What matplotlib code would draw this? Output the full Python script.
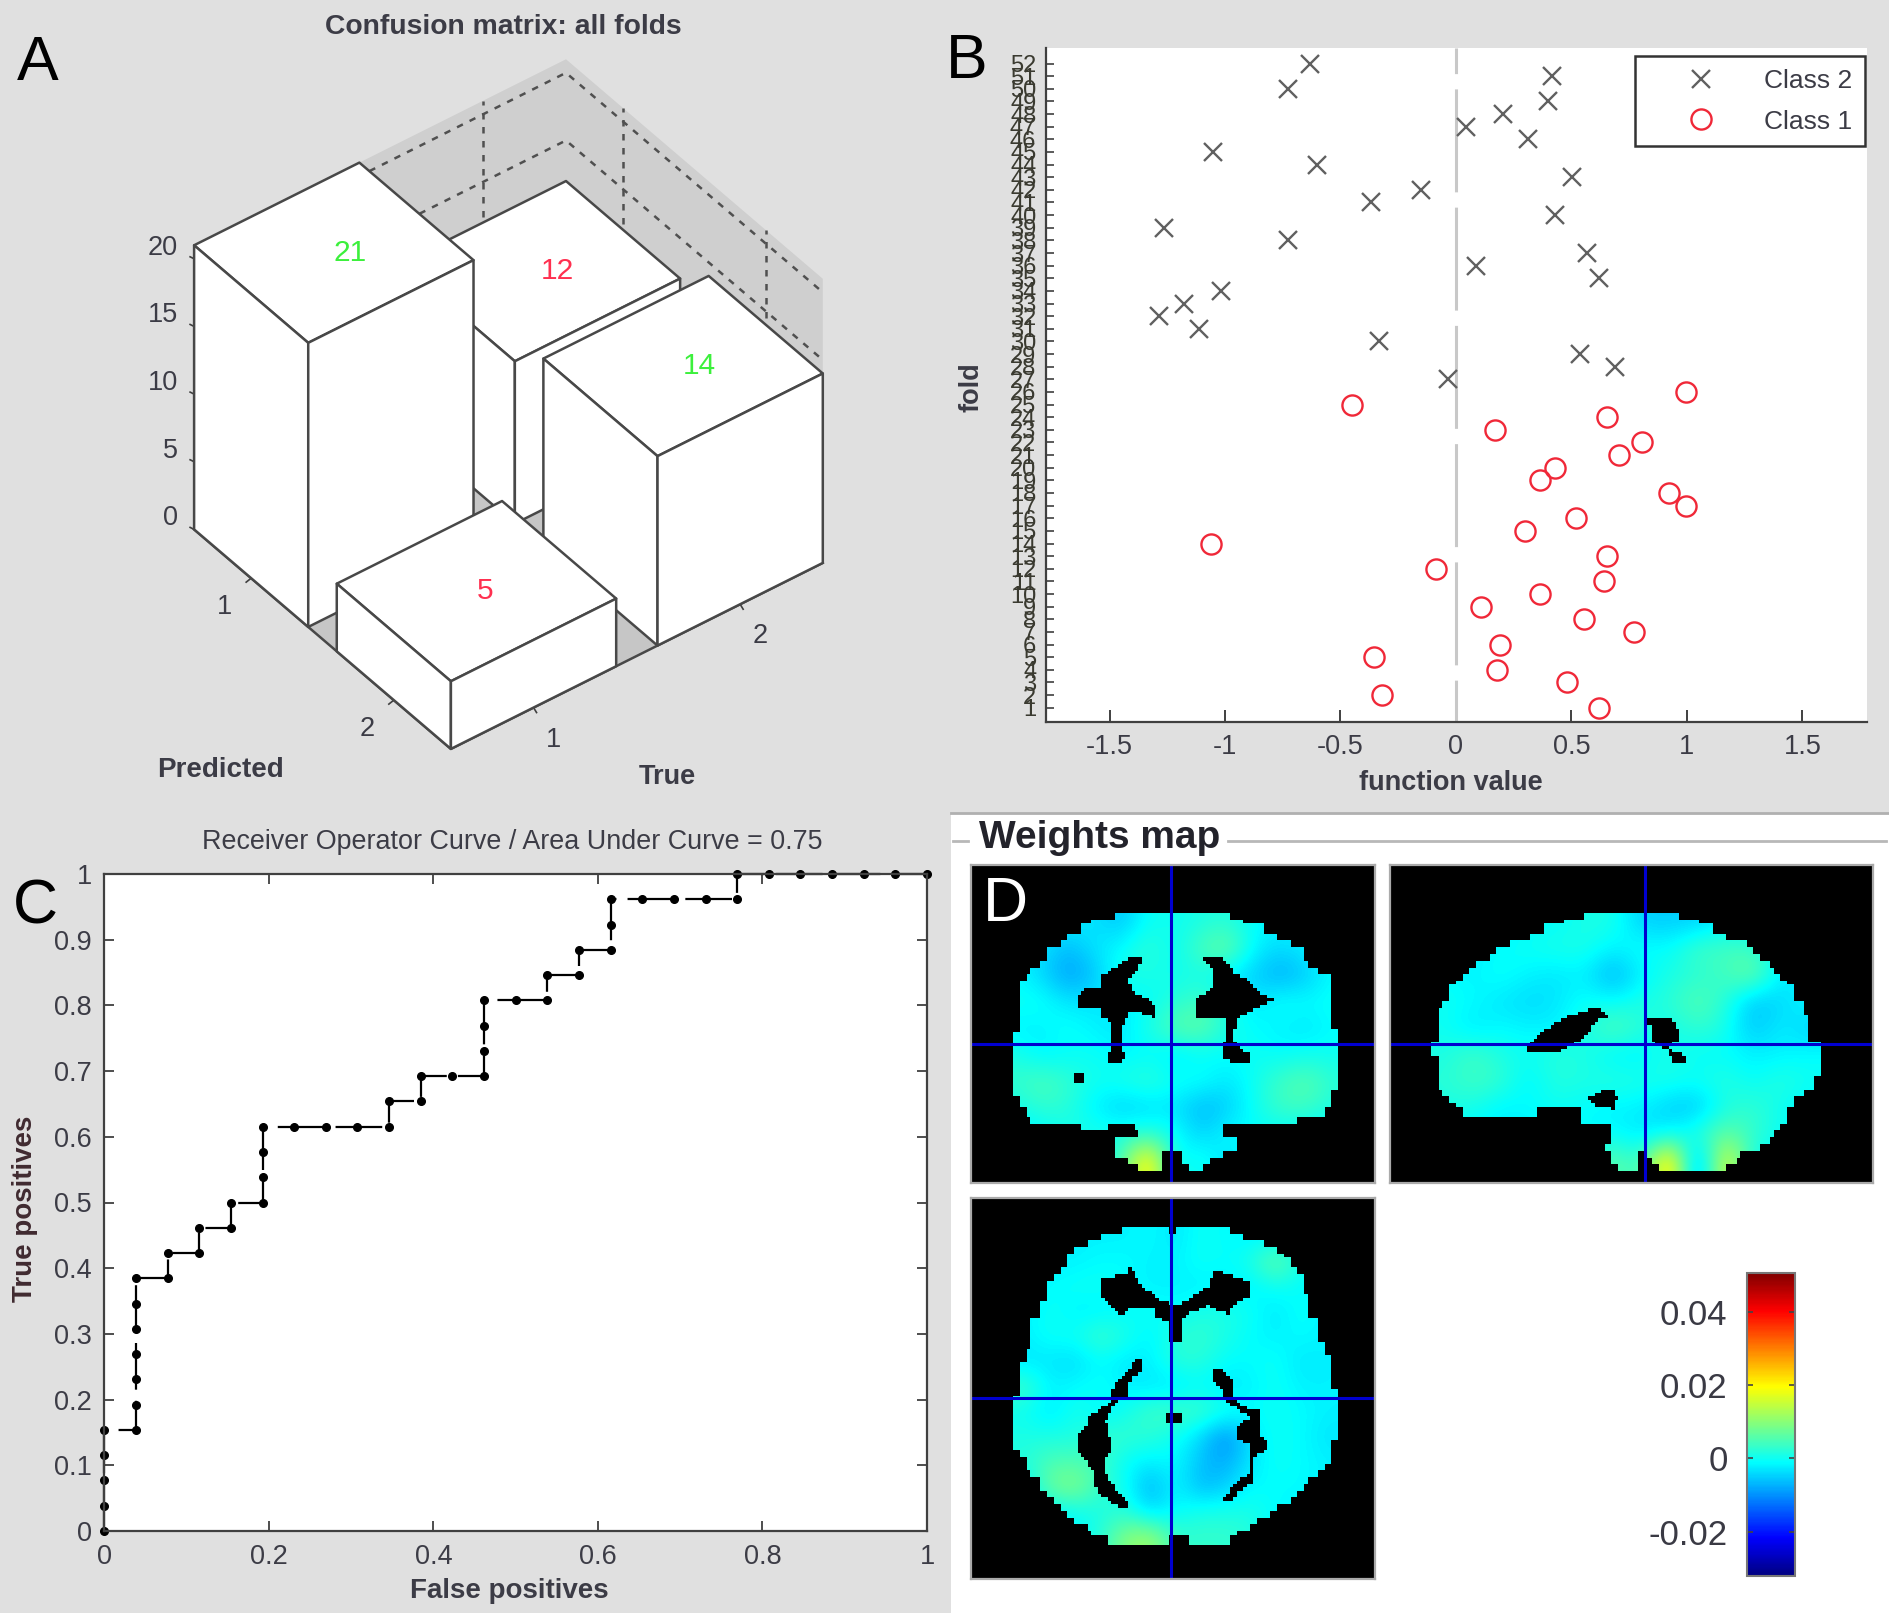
import numpy as np
import matplotlib
matplotlib.use("Agg")
import matplotlib.pyplot as plt
from matplotlib.colors import LinearSegmentedColormap
from matplotlib.path import Path
from matplotlib.patches import Polygon, Rectangle

plt.rcParams['font.family'] = ['Liberation Sans', 'DejaVu Sans']
plt.rcParams['axes.unicode_minus'] = False

W, H = 1890, 1613

# A: confusion matrix
pred_idx = [1, 1, 2, 2]
true_idx = [1, 2, 1, 2]
counts = [21, 12, 5, 14]
count_colors = ['#3cf03c', '#ff3050', '#ff3050', '#3cf03c']
z_ticks = [0, 5, 10, 15, 20]

# B: function value per fold
fold_class2 = list(range(52, 26, -1))
value_class2 = [-0.632, 0.418, -0.728, 0.397, 0.204, 0.042, 0.311, -1.05, -0.60, 0.504,
                -0.151, -0.366, 0.428, -1.264, -0.728, 0.569, 0.086, 0.621, -1.018, -1.178,
                -1.287, -1.112, -0.332, 0.538, 0.687, -0.034]
fold_class1 = list(range(26, 0, -1))
value_class1 = [0.997, -0.449, 0.653, 0.170, 0.804, 0.705, 0.428, 0.363, 0.922, 0.997,
                0.522, 0.300, -1.06, 0.653, -0.086, 0.642, 0.363, 0.107, 0.556, 0.770,
                0.191, -0.355, 0.180, 0.480, -0.321, 0.621]

# C: ROC curve, counts out of 26
fp_count = [0, 0, 0, 0, 0, 1, 1, 1, 1, 1, 1, 1, 2, 2, 3, 3, 4, 4, 5, 5, 5, 5, 6, 7, 8, 9, 9,
            10, 10, 11, 12, 12, 12, 12, 13, 14, 14, 15, 15, 16, 16, 16, 17, 18, 19, 20, 20,
            21, 22, 23, 24, 25, 26]
tp_count = [0, 1, 2, 3, 4, 4, 5, 6, 7, 8, 9, 10, 10, 11, 11, 12, 12, 13, 13, 14, 15, 16, 16,
            16, 16, 16, 17, 17, 18, 18, 18, 19, 20, 21, 21, 21, 22, 22, 23, 23, 24, 25, 25,
            25, 25, 25, 26, 26, 26, 26, 26, 26, 26]

# D: weights, units of 0.001, read on a coarse grid
coronal_w = [
    [-2, -2, -2, -3, -6, 0, 0, 1, 2, -1, -2, -2, -2],
    [-2, -3, -7, -3, -1, 3, -1, 5, 8, -2, -4, -2, 0],
    [-1, -4, -9, -6, 1, 1, 0, 1, -3, -5, -8, -5, -1],
    [0, 0, -3, -3, -2, -1, 2, 4, 1, -3, 0, -1, 0],
    [-2, -2, 0, -2, -3, 1, 6, 7, 1, -1, -2, -3, -1],
    [1, -2, -1, 0, -2, -1, -3, -1, -1, 0, -1, 0, 0],
    [3, 5, 3, 0, 1, 3, 0, 0, -3, 0, 4, 6, 2],
    [0, 3, 2, -2, -5, -4, -3, -7, -5, 0, 4, 4, 1],
    [-2, -2, 1, 1, 1, 2, 0, -5, -1, -1, -1, -2, -2],
    [-2, -2, -2, -2, 4, 24, -2, 1, -4, 0, -2, -2, -2],
]
sagittal_w = [
    [-2, -2, -2, -1, -1, 1, 1, -5, -5, -5, -2, -2, -2, -2],
    [-2, -2, -1, 0, 1, 1, -2, 0, -1, 4, 4, 4, -2, -2],
    [-1, -2, 0, -2, -3, -2, -8, -2, 1, 2, 4, 8, -3, -2],
    [0, -1, -3, -4, -3, 0, -1, 1, 2, 6, 2, -6, -4, -1],
    [0, -3, -1, -2, -2, 1, 6, 2, 0, 3, 1, -6, -2, -5],
    [1, 4, 1, 0, 2, 1, -2, -2, 1, -1, -1, -2, -2, -1],
    [2, 4, 3, -2, 2, 1, 2, 1, 1, 0, 2, -1, 2, 0],
    [1, 1, -2, -1, 0, -1, -2, -2, -5, -6, 1, 3, 0, -2],
    [-2, -2, -2, -2, -2, -1, -1, -3, -2, 2, 7, 3, 0, -2],
    [-2, -2, -2, -2, -2, -2, 8, 1, 27, -12, 20, 0, -2, -2],
]
axial_w = [
    [-2, -2, -2, -2, -2, -1, -3, 0, -1, -2, -2, -2, -2],
    [-2, -2, -2, -1, -1, -2, -2, 0, -1, 1, 8, 1, -2],
    [-2, -1, 0, 0, -1, -2, -2, -2, -2, -2, 0, -1, -2],
    [-2, 0, -2, -2, -1, 0, -1, 1, 1, 0, -3, 0, -2],
    [-2, 0, 0, 4, 1, -2, 2, 3, 1, -1, -2, -1, -2],
    [-3, -3, -4, -1, -3, -2, 2, 2, -1, -1, 0, -3, -2],
    [4, -2, -1, 0, -2, -3, -3, -1, -3, -2, 0, -2, -2],
    [0, -3, 1, -2, 0, 4, 4, 4, 1, -1, 0, -1, -2],
    [1, 1, 1, 3, 3, 2, 0, -4, -11, -3, 0, -1, -3],
    [2, 5, 5, 4, -1, -2, -1, -6, -8, -3, 0, -1, -2],
    [-2, 8, 10, 3, 0, -8, -1, -7, -5, -1, -1, -1, -2],
    [-2, -2, 0, 1, 2, -4, -1, 1, 1, 1, -1, -2, -2],
    [-2, -2, -2, 2, 10, 12, 3, 3, 3, 2, -2, -2, -2],
]

# outlines, in 3x pixels of each slice crop
coronal_outer = [(460, 160), (770, 160), (800, 180), (860, 200), (930, 235), (1000, 270), (1040, 325),
                 (1085, 350), (1085, 500), (1105, 505), (1105, 690), (1085, 695), (1085, 740), (1040, 770),
                 (1000, 775), (770, 790), (740, 815), (805, 820), (805, 870), (740, 880), (700, 930),
                 (650, 920), (640, 870), (580, 870), (570, 925), (520, 920), (440, 880), (440, 820),
                 (480, 820), (480, 835), (515, 835), (515, 810), (500, 790), (370, 800), (220, 785),
                 (180, 770), (140, 710), (135, 520), (155, 510), (155, 370), (200, 320), (240, 270),
                 (300, 230), (360, 195), (440, 170)]
coronal_holes = [
    [(490, 290), (520, 290), (515, 330), (480, 355), (490, 390), (560, 435), (560, 475), (490, 450),
     (470, 490), (462, 500), (462, 580), (480, 585), (455, 610), (420, 610), (420, 585), (433, 575),
     (433, 490), (400, 470), (400, 445), (325, 445), (325, 420), (360, 385), (405, 380), (405, 350),
     (450, 320)],
    [(705, 295), (760, 290), (800, 340), (840, 360), (880, 400), (920, 420), (880, 440), (805, 480),
     (797, 550), (815, 560), (845, 585), (845, 610), (790, 610), (765, 590), (765, 555), (772, 550),
     (772, 480), (680, 480), (680, 420), (740, 385), (740, 330)],
    [(320, 640), (345, 640), (345, 665), (320, 665)],
]
sagittal_outer = [(620, 160), (870, 160), (910, 180), (970, 195), (1010, 225), (1080, 245), (1110, 280),
                  (1150, 325), (1190, 355), (1240, 430), (1270, 480), (1270, 545), (1295, 550), (1295, 645),
                  (1270, 680), (1230, 710), (1190, 790), (1140, 850), (1060, 880), (1000, 930), (820, 920),
                  (790, 880), (760, 865), (750, 930), (720, 930), (680, 910), (660, 855), (680, 845),
                  (680, 790), (580, 785), (555, 740), (480, 740), (440, 770), (240, 770), (200, 735),
                  (155, 680), (140, 630), (135, 545), (155, 530), (155, 450), (185, 410), (200, 380),
                  (260, 320), (300, 290), (390, 240), (470, 210), (550, 180)]
sagittal_holes = [
    [(600, 450), (635, 450), (660, 470), (630, 480), (600, 520), (580, 545), (500, 580), (420, 580),
     (420, 555), (480, 505), (520, 480), (560, 465)],
    [(775, 480), (850, 480), (870, 510), (870, 550), (840, 555), (855, 580), (895, 585), (895, 610),
     (855, 610), (840, 570), (790, 545), (790, 500), (775, 500)],
    [(640, 695), (675, 695), (690, 715), (675, 725), (675, 755), (660, 740), (615, 735), (600, 715)],
]
axial_outer = [(480, 95), (580, 95), (610, 115), (640, 95), (770, 95), (800, 120), (860, 130), (920, 165),
               (960, 210), (1000, 250), (1020, 310), (1030, 370), (1060, 445), (1080, 480), (1080, 570),
               (1100, 575), (1100, 740), (1080, 790), (1040, 850), (980, 890), (940, 930), (850, 990),
               (770, 1040), (680, 1055), (650, 1020), (610, 1030), (590, 1055), (440, 1050), (370, 1010),
               (280, 950), (220, 880), (180, 810), (140, 765), (135, 600), (155, 575), (155, 510),
               (180, 460), (200, 380), (220, 320), (240, 250), (280, 210), (320, 160), (400, 125)]
axial_holes = [
    [(400, 255), (480, 235), (490, 220), (520, 270), (580, 325), (640, 330), (720, 280), (740, 225),
     (770, 235), (845, 260), (845, 310), (800, 330), (780, 360), (720, 335), (650, 365), (640, 440),
     (600, 440), (600, 380), (565, 375), (560, 345), (480, 345), (465, 365), (435, 340), (400, 310)],
    [(500, 495), (520, 495), (520, 535), (490, 550), (480, 610), (445, 625), (415, 680), (420, 720),
     (435, 730), (435, 770), (410, 790), (410, 830), (440, 880), (480, 925), (480, 940), (450, 935),
     (390, 900), (375, 830), (345, 790), (325, 760), (325, 725), (360, 690), (365, 665), (430, 625),
     (440, 570), (485, 530)],
    [(740, 520), (765, 525), (800, 570), (800, 610), (820, 640), (880, 645), (880, 720), (895, 740),
     (895, 765), (860, 790), (860, 860), (810, 895), (790, 925), (765, 925), (790, 880), (850, 830),
     (845, 750), (805, 730), (805, 705), (845, 670), (770, 620), (770, 590), (740, 560)],
    [(597, 658), (640, 658), (640, 688), (597, 688)],
]

cbar_ticks = [-0.02, 0, 0.02, 0.04]
cbar_labels = ['-0.02', '0', '0.02', '0.04']
w_min, w_max = -0.032, 0.0505

GRAY_BG = '#e0e0e0'
TXT = '#3c3c46'

# matlab jet, cyan sits at 0.375 unlike the matplotlib one
matlab_jet = LinearSegmentedColormap.from_list('matlab_jet', [
    (0.0, (0, 0, 0.5)), (0.125, (0, 0, 1)), (0.375, (0, 1, 1)),
    (0.625, (1, 1, 0)), (0.875, (1, 0, 0)), (1.0, (0.5, 0, 0))], N=256)

fig = plt.figure(figsize=(W / 100, H / 100), dpi=100, facecolor=GRAY_BG)


def ax_px(left, top, right, bottom, **kw):
    return fig.add_axes([left / W, 1 - bottom / H, (right - left) / W, (bottom - top) / H], **kw)


def txt(x, y, s, **kw):
    kw.setdefault('ha', 'center')
    kw.setdefault('va', 'center')
    kw.setdefault('color', TXT)
    return fig.text(x / W, 1 - y / H, s, **kw)


bg = ax_px(0, 0, W, H, zorder=0)
bg.set_xlim(0, W)
bg.set_ylim(H, 0)
bg.axis('off')
bg.add_patch(Rectangle((951, 814), W - 951, H - 814, fc='white', ec='none'))
bg.plot([951, W], [813, 813], color='#b0b0b0', lw=2)
bg.plot([953, 968], [841, 841], color='#b8b8b8', lw=2)
bg.plot([1228, 1886], [841, 841], color='#b8b8b8', lw=2)

# ---------- A ----------
O = np.array([194.1, 529.4])
P = np.array([256.8, 219.5])
T = np.array([371.9, -186.0])
Z_PX = 13.53
LIM0, LIM1 = 0.6, 2.4
BAR_W = 0.8


def proj(p, t, z):
    fp = (p - LIM0) / (LIM1 - LIM0)
    ft = (t - LIM0) / (LIM1 - LIM0)
    xy = O + fp * P + ft * T
    return xy[0], xy[1] - z * Z_PX


wall_top = max(counts)
wall_fc = '#cfcfcf'
bg.add_patch(Polygon([proj(LIM0, LIM0, 0), proj(LIM0, LIM1, 0), proj(LIM1, LIM1, 0), proj(LIM1, LIM0, 0)],
                     fc='#c6c6c6', ec='none', zorder=1))
bg.add_patch(Polygon([proj(LIM0, LIM0, 0), proj(LIM0, LIM1, 0), proj(LIM0, LIM1, wall_top), proj(LIM0, LIM0, wall_top)],
                     fc=wall_fc, ec='none', zorder=1))
bg.add_patch(Polygon([proj(LIM0, LIM1, 0), proj(LIM1, LIM1, 0), proj(LIM1, LIM1, wall_top), proj(LIM0, LIM1, wall_top)],
                     fc=wall_fc, ec='none', zorder=1))

grid_kw = dict(color='#505050', lw=1.8, ls=(0, (2.6, 3)), zorder=1.5)
for z in z_ticks:
    a, b, c = proj(LIM0, LIM0, z), proj(LIM0, LIM1, z), proj(LIM1, LIM1, z)
    bg.plot([a[0], b[0], c[0]], [a[1], b[1], c[1]], **grid_kw)
for k in [1, 2]:
    a, b = proj(LIM0, k, 0), proj(LIM0, k, wall_top)
    bg.plot([a[0], b[0]], [a[1], b[1]], **grid_kw)
    a, b = proj(k, LIM1, 0), proj(k, LIM1, wall_top)
    bg.plot([a[0], b[0]], [a[1], b[1]], **grid_kw)

edge_kw = dict(color='#484848', lw=1.8, zorder=2)
a, b, c = proj(LIM0, LIM0, 0), proj(LIM1, LIM0, 0), proj(LIM1, LIM1, 0)
bg.plot([a[0], b[0], c[0]], [a[1], b[1], c[1]], **edge_kw)

# back bars first
order = sorted(range(len(counts)), key=lambda i: pred_idx[i] - true_idx[i])
for n, i in enumerate(order):
    p0, p1 = pred_idx[i] - BAR_W / 2, pred_idx[i] + BAR_W / 2
    t0, t1 = true_idx[i] - BAR_W / 2, true_idx[i] + BAR_W / 2
    h = counts[i]
    faces = [
        [proj(p0, t0, h), proj(p0, t1, h), proj(p1, t1, h), proj(p1, t0, h)],
        [proj(p0, t0, 0), proj(p1, t0, 0), proj(p1, t0, h), proj(p0, t0, h)],
        [proj(p1, t0, 0), proj(p1, t1, 0), proj(p1, t1, h), proj(p1, t0, h)],
    ]
    for f in faces:
        bg.add_patch(Polygon(f, fc='white', ec='#484848', lw=1.8, joinstyle='round', zorder=3 + n))
    lx, ly = proj(pred_idx[i], true_idx[i], h)
    bg.text(lx, ly, str(h), color=count_colors[i], fontsize=21.5, ha='left', va='center', zorder=10)

for z in z_ticks:
    x, y = proj(LIM0, LIM0, z)
    bg.plot([x - 4, x], [y - 2, y], color='#404040', lw=1.2, zorder=2)
    bg.text(x - 16, y - 11, str(z), color=TXT, fontsize=19.5, ha='right', va='center')
for k in [1, 2]:
    x, y = proj(k, LIM0, 0)
    bg.plot([x - 5, x], [y + 4, y], color='#404040', lw=1.2, zorder=2)
    bg.text(x - 27, y + 29, str(k), color=TXT, fontsize=19.5, ha='center', va='center')
    x, y = proj(LIM1, k, 0)
    bg.plot([x + 3, x], [y + 5, y], color='#404040', lw=1.2, zorder=2)
    bg.text(x + 20, y + 32, str(k), color=TXT, fontsize=19.5, ha='center', va='center')

txt(503, 27, 'Confusion matrix: all folds', fontsize=20.3, fontweight='bold')
txt(221, 770, 'Predicted', fontsize=20, fontweight='bold')
txt(667, 777, 'True', fontsize=19.5, fontweight='bold')

# ---------- B ----------
axb = ax_px(1046, 47.5, 1867, 722, zorder=1)
axb.plot([0, 0], [-0.13, 53.27], color='#c8c8c8', lw=2.2, ls=(20, (33.7, 5)))
axb.plot(value_class2, fold_class2, ls='none', marker='x', ms=13, mew=1.7, color='#606060', label='Class 2')
axb.plot(value_class1, fold_class1, ls='none', marker='o', ms=14.5, mew=1.7, mfc='none', color='#f02838', label='Class 1')
axb.set_xlim(-1.775, 1.78)
axb.set_ylim(-0.13, 53.27)
axb.spines['top'].set_visible(False)
axb.spines['right'].set_visible(False)
axb.spines['left'].set_color('#404040')
axb.spines['bottom'].set_color('#404040')
axb.spines['left'].set_linewidth(1.6)
axb.spines['bottom'].set_linewidth(1.6)
axb.set_xticks([-1.5, -1, -0.5, 0, 0.5, 1, 1.5])
axb.set_xticklabels(['-1.5', '-1', '-0.5', '0', '0.5', '1', '1.5'])
axb.set_yticks(range(1, 53))
axb.set_yticklabels([str(i) for i in range(1, 53)])
axb.tick_params(axis='x', direction='in', length=9, width=1.4, color='#404040', labelsize=19.5, labelcolor=TXT, pad=9)
axb.tick_params(axis='y', direction='in', length=6, width=1.2, color='#404040', labelsize=17, labelcolor='#3a3a30', pad=7)
leg = axb.legend(loc='upper right', bbox_to_anchor=(0.998, 0.987), borderaxespad=0, fontsize=19, numpoints=1,
                 handlelength=4.1, handletextpad=0.34, labelspacing=0.63, borderpad=0.48, fancybox=False,
                 framealpha=1, edgecolor='#333333')
leg.get_frame().set_linewidth(1.8)
for t_ in leg.get_texts():
    t_.set_color(TXT)
txt(972, 387, 'fold', fontsize=19.5, fontweight='bold', rotation=90)
txt(1451, 783, 'function value', fontsize=19.5, fontweight='bold')

# ---------- C ----------
axc = ax_px(104.3, 874, 927, 1531, zorder=1)
axc.plot(np.array(fp_count) / 26, np.array(tp_count) / 26, color='black', lw=1.6, ls=(0, (21, 5)), clip_on=False)
axc.plot(np.array(fp_count) / 26, np.array(tp_count) / 26, ls='none', marker='o', ms=5.5, color='black', clip_on=False)
axc.set_xlim(0, 1)
axc.set_ylim(0, 1)
axc.set_xticks([0, 0.2, 0.4, 0.6, 0.8, 1])
axc.set_xticklabels(['0', '0.2', '0.4', '0.6', '0.8', '1'])
axc.set_yticks(np.arange(11) / 10)
axc.set_yticklabels(['0', '0.1', '0.2', '0.3', '0.4', '0.5', '0.6', '0.7', '0.8', '0.9', '1'])
axc.tick_params(direction='in', top=True, right=True, length=7, width=1.3, color='#404040', labelsize=19.5, labelcolor=TXT, pad=9)
for s in axc.spines.values():
    s.set_color('#404040')
    s.set_linewidth(1.6)
txt(512, 842, 'Receiver Operator Curve / Area Under Curve = 0.75', fontsize=19.4)
txt(509, 1591, 'False positives', fontsize=20, fontweight='bold')
txt(25, 1209, 'True positives', fontsize=20, fontweight='bold', rotation=90, color='#402a30')

# ---------- D ----------
txt(1100, 838, 'Weights map', fontsize=28, fontweight='bold', color='#23232b')


def brain(rect, crop_xlim, crop_ylim, cell_extent, weights, outer, holes, cross):
    ax = ax_px(*rect, zorder=1)
    ax.set_facecolor('black')
    im = ax.imshow(np.array(weights) * 0.001, extent=cell_extent, origin='upper', cmap=matlab_jet,
                   vmin=w_min, vmax=w_max, interpolation='bicubic', aspect='auto')
    # outline on whole voxels for the staircase edge, holes on half voxels so thin ones survive
    vox = 20.3
    xs = np.arange(crop_xlim[0], crop_xlim[1] + vox, vox / 2)
    ys = np.arange(crop_ylim[1], crop_ylim[0] + vox, vox / 2)
    gx, gy = np.meshgrid(xs, ys)
    block_x = crop_xlim[0] + (np.floor((gx - crop_xlim[0]) / vox) + 0.5) * vox
    block_y = crop_ylim[1] + (np.floor((gy - crop_ylim[1]) / vox) + 0.5) * vox
    inside = Path(outer).contains_points(np.column_stack([block_x.ravel(), block_y.ravel()]))
    pts = np.column_stack([gx.ravel(), gy.ravel()])
    for hole in holes:
        inside &= ~Path(hole).contains_points(pts)
    mask = np.zeros(gx.shape + (4,))
    mask[..., 3] = (~inside.reshape(gx.shape)).astype(float)
    ax.imshow(mask, extent=(xs[0] - vox / 4, xs[-1] + vox / 4, ys[-1] + vox / 4, ys[0] - vox / 4),
              origin='upper', interpolation='nearest', aspect='auto')
    ax.plot([cross[0], cross[0]], [crop_ylim[1] + 6, crop_ylim[0] - 6], color='#0000d0', lw=2.2)
    ax.plot([crop_xlim[0] + 6, crop_xlim[1] - 6], [cross[1], cross[1]], color='#0000d0', lw=2.2)
    ax.set_xlim(*crop_xlim)
    ax.set_ylim(*crop_ylim)
    ax.set_xticks([])
    ax.set_yticks([])
    for s in ax.spines.values():
        s.set_color('#aaaaaa')
        s.set_linewidth(1.6)
    return im


# crop pixels are 3x, each rect is the frame of the slice on the page
im = brain((971, 865, 1375, 1183), (10, 1222), (969, 15), (100, 1140, 940, 150), coronal_w, coronal_outer, coronal_holes, (610, 552))
brain((1390, 865, 1873, 1183), (5, 1455), (969, 15), (128, 1304, 940, 150), sagittal_w, sagittal_outer, sagittal_holes, (770, 552))
brain((971, 1198, 1375, 1579), (10, 1222), (1155, 12), (135, 1110, 1065, 90), axial_w, axial_outer, axial_holes, (610, 612))

cax = ax_px(1747, 1273, 1795, 1576, zorder=1)
cb = fig.colorbar(im, cax=cax)
cb.set_ticks(cbar_ticks)
cb.set_ticklabels(cbar_labels)
cb.outline.set_edgecolor('#777777')
cb.outline.set_linewidth(1.5)
cax.yaxis.set_ticks_position('left')
cax.tick_params(direction='in', left=True, right=True, length=4, width=1.2, color='#444444', labelsize=25, labelcolor='#3a3a44', pad=14)

letter_kw = dict(fontsize=45, ha='left', va='baseline', color='black', zorder=20)
txt(17, 80, 'A', **letter_kw)
txt(946, 78, 'B', **letter_kw)
txt(13, 923, 'C', **letter_kw)
txt(983, 921, 'D', fontsize=45, ha='left', va='baseline', color='white', zorder=20)

fig.savefig('out.png', dpi=100, facecolor=fig.get_facecolor())
